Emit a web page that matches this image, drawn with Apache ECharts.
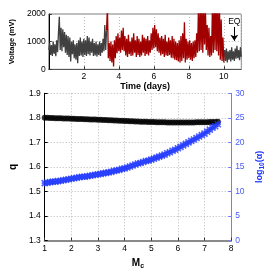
<!DOCTYPE html>
<html><head><meta charset="utf-8">
<script src="https://cdn.jsdelivr.net/npm/echarts@6/dist/echarts.min.js"></script>
<style>html,body{margin:0;padding:0;background:#fff}#c{width:274px;height:275px}</style>
</head><body><div id="c"></div>
<script>
// ---- Top panel: voltage time series (mV), sampled every 0.05 day ----
const timeStep = 0.05;
const gray1Start = 0.00;
const gray1Volt = [
 700, 950, 520, 880, 480,1000, 560, 900, 470,1050,
 620,1300,1900, 700,1500, 650,1450, 800,1350, 600,
1250, 520,1200, 450,1150, 280,1000, 550,1050, 400,
 900, 350, 950, 220,1050, 480,1150, 500,1000, 450,
1100, 520,1050, 480,1200, 550,1150, 500,1000, 600,
1100, 480, 950, 500,1000, 460, 900, 520,1000, 480,
 950, 600,1100, 650,1600, 700,1400];
const redStart = 3.30;
const redVolt = [
1400,2300, 400, 950, 300,1000, 250, 900, 100,1050,
 400,1200, 580,1300, 650,1150, 600,1400, 700,1500,
 650,1200, 500,1100, 450,1250, 550,1000, 480,1150,
 500,1300, 600,1050, 450,1200, 520,1100, 450,1000,
 500,1250, 600,1150, 480,1100, 550,1200, 500,1050,
 600,1300, 700,1500, 750,1600, 800,1450, 650,1300,
 600,1150, 500,1200, 550,1100, 450,1250, 500,1000,
 480,1150, 520,1050, 420,1200, 400,1100, 350,1000,
 330, 950, 280,1050, 250,1200, 300,1300, 400,1700,
 250,1100, 350,1000, 400,1050, 350, 950, 300,1000,
 400,1050, 450,1300, 600,2200, 650,2300, 700,2400,
 600,2300, 900,2200, 700,1600, 500,1500, 450,1200,
 500,2300, 600,2400, 700,2500, 650,2300, 500,2400,
 350,1800, 300,1150, 250, 700];
const gray2Start = 10.05;
const gray2Volt = [
 700, 300, 750, 250, 650, 350, 700, 280, 800, 350,
 650, 300, 750, 380, 850, 400, 700, 330, 800, 450];
const eqMark = {day: 10.6, from: 1530, to: 1030, text: 'EQ'};

// ---- Bottom panel: q and log10(alpha) versus Mc ----
const mcValues = [
1.0,1.1,1.2,1.3,1.4,1.5,1.6,1.7,1.8,1.9,
2.0,2.1,2.2,2.3,2.4,2.5,2.6,2.7,2.8,2.9,
3.0,3.1,3.2,3.3,3.4,3.5,3.6,3.7,3.8,3.9,
4.0,4.1,4.2,4.3,4.4,4.5,4.6,4.7,4.8,4.9,
5.0,5.1,5.2,5.3,5.4,5.5,5.6,5.7,5.8,5.9,
6.0,6.1,6.2,6.3,6.4,6.5,6.6,6.7,6.8,6.9,
7.0,7.1,7.2,7.3,7.4,7.5];
const qValues = [
1.800,1.800,1.799,1.799,1.798,1.798,1.798,1.797,1.797,1.797,
1.796,1.796,1.795,1.795,1.795,1.794,1.794,1.793,1.793,1.793,
1.792,1.792,1.791,1.791,1.790,1.790,1.789,1.789,1.788,1.788,
1.787,1.787,1.786,1.786,1.785,1.785,1.784,1.784,1.784,1.783,
1.783,1.783,1.782,1.782,1.782,1.782,1.781,1.781,1.781,1.781,
1.781,1.781,1.781,1.781,1.781,1.781,1.781,1.782,1.782,1.782,
1.782,1.782,1.783,1.783,1.783,1.784];
const logAlpha = [
11.7,11.8,11.9,12.0,12.0,12.1,12.2,12.3,12.4,12.5,
12.6,12.7,12.8,12.9,13.0,13.0,13.1,13.2,13.3,13.4,
13.5,13.6,13.7,13.8,13.9,14.0,14.2,14.3,14.4,14.6,
14.7,14.9,15.1,15.3,15.5,15.7,15.8,16.0,16.2,16.3,
16.5,16.7,16.9,17.1,17.3,17.5,17.8,18.0,18.3,18.5,
18.8,19.1,19.4,19.7,20.0,20.3,20.6,20.9,21.2,21.5,
21.8,22.2,22.6,23.0,23.3,23.7];

const FONT = "'Liberation Sans', Arial, Helvetica, sans-serif";
const BLUE = '#2138ff';
const BLUE_AXIS = '#7080ff';
const toSeries = (start, arr) => arr.map((v, i) => [+(start + i * timeStep).toFixed(2), v]);
const grid = {type: [1, 2], color: '#b8b8b8', width: 1};

const chart = echarts.init(document.getElementById('c'), null, {renderer: 'canvas'});
chart.setOption({
  animation: false,
  backgroundColor: '#fff',
  textStyle: {fontFamily: FONT},
  grid: [
    {left: 35.5, top: 14, width: 205.8, height: 55.3, show: true, borderColor: '#808080', borderWidth: 1},
    {left: 35.5, top: 93.3, width: 205.8, height: 150}
  ],
  xAxis: [
    {gridIndex: 0, type: 'value', min: 0, max: 11, interval: 2,
     name: 'Time (days)', nameLocation: 'middle', nameGap: 13,
     nameTextStyle: {fontWeight: 'bold', fontSize: 9, color: '#000', fontFamily: FONT},
     axisLine: {lineStyle: {color: '#555', width: 1}},
     axisTick: {inside: true, length: 3, lineStyle: {color: '#333'}},
     axisLabel: {showMinLabel: false, showMaxLabel: false, fontSize: 8.5, color: '#000', margin: 3, fontFamily: FONT},
     splitLine: {show: true, lineStyle: grid}},
    {gridIndex: 1, type: 'value', min: 1, max: 8, interval: 1,
     name: '{m|M}{s|c}', nameLocation: 'middle', nameGap: 16,
     nameTextStyle: {rich: {
        m: {fontWeight: 'bold', fontSize: 10, color: '#000', fontFamily: FONT},
        s: {fontWeight: 'bold', fontSize: 7, color: '#000', fontFamily: FONT, verticalAlign: 'bottom', padding: [6, 0, 0, 0]}}},
     axisLine: {lineStyle: {color: '#8a8a8a', width: 2}},
     axisTick: {inside: true, length: 3, lineStyle: {color: '#333'}},
     axisLabel: {fontSize: 8.5, color: '#000', margin: 4, fontFamily: FONT},
     splitLine: {show: true, lineStyle: grid}}
  ],
  yAxis: [
    {gridIndex: 0, type: 'value', min: 0, max: 2000, interval: 1000,
     name: 'Voltage (mV)', nameLocation: 'middle', nameGap: 25, nameRotate: 90,
     nameTextStyle: {fontWeight: 'bold', fontSize: 7.5, color: '#000', fontFamily: FONT},
     axisLine: {show: true, lineStyle: {color: '#000', width: 1}},
     axisTick: {show: true, inside: true, length: 3, lineStyle: {color: '#333'}},
     axisLabel: {fontSize: 8.5, color: '#000', margin: 3, fontFamily: FONT, formatter: v => String(v)},
     splitLine: {show: true, lineStyle: grid}},
    {gridIndex: 1, type: 'value', min: 1.3, max: 1.9, interval: 0.1,
     name: 'q', nameLocation: 'middle', nameGap: 21, nameRotate: 90,
     nameTextStyle: {fontWeight: 'bold', fontSize: 10, color: '#000', fontFamily: FONT},
     axisLine: {show: true, lineStyle: {color: '#000', width: 1}},
     axisTick: {show: true, inside: true, length: 3, lineStyle: {color: '#000'}},
     axisLabel: {fontSize: 8.5, color: '#000', margin: 4, fontFamily: FONT, formatter: v => v.toFixed(1)},
     splitLine: {show: true, lineStyle: grid}},
    {gridIndex: 1, type: 'value', position: 'right', min: 0, max: 30, interval: 5,
     name: '{a|log}{s|10}{a|(α)}', nameLocation: 'middle', nameGap: 14, nameRotate: 90,
     nameTextStyle: {rich: {
        a: {fontWeight: 'bold', fontSize: 9, color: BLUE, fontFamily: FONT},
        s: {fontWeight: 'bold', fontSize: 6.5, color: BLUE, fontFamily: FONT, padding: [5, 0, 0, 0]}}},
     axisLine: {show: true, lineStyle: {color: BLUE_AXIS, width: 1}},
     axisTick: {show: true, inside: true, length: 3, lineStyle: {color: BLUE_AXIS}},
     axisLabel: {fontSize: 8.5, color: '#4a5cff', margin: 4, fontFamily: FONT},
     splitLine: {show: false}}
  ],
  series: [
    {type: 'line', xAxisIndex: 0, yAxisIndex: 0, data: toSeries(gray1Start, gray1Volt),
     showSymbol: false, lineStyle: {color: '#404040', width: 1.3}, itemStyle: {color: '#404040'}, clip: true},
    {type: 'line', xAxisIndex: 0, yAxisIndex: 0, data: toSeries(redStart, redVolt),
     showSymbol: false, lineStyle: {color: '#a00000', width: 1.3}, itemStyle: {color: '#a00000'}, clip: true},
    {type: 'line', xAxisIndex: 0, yAxisIndex: 0, data: toSeries(gray2Start, gray2Volt),
     showSymbol: false, lineStyle: {color: '#404040', width: 1.3}, itemStyle: {color: '#404040'}, clip: true,
     markLine: {silent: true, symbolSize: 6, animation: false,
       lineStyle: {color: '#000', width: 1, type: 'solid'},
       label: {show: true, position: 'start', formatter: eqMark.text, fontSize: 8.5, color: '#000', fontFamily: FONT, distance: 1},
       data: [[{coord: [eqMark.day, eqMark.from], symbol: 'none'}, {coord: [eqMark.day, eqMark.to], symbol: 'arrow'}]]}},
    {type: 'scatter', xAxisIndex: 1, yAxisIndex: 1, data: mcValues.map((m, i) => [m, qValues[i]]),
     symbol: 'circle', symbolSize: 6, itemStyle: {color: '#000'}},
    {type: 'scatter', xAxisIndex: 1, yAxisIndex: 2, data: mcValues.map((m, i) => [m, logAlpha[i]]),
     symbol: 'path://M0,0L10,10M10,0L0,10M5,0L5,10M0,5L10,5', symbolSize: 6,
     itemStyle: {color: 'rgba(0,0,0,0)', borderColor: BLUE, borderWidth: 1.6}}
  ]
});
</script></body></html>
